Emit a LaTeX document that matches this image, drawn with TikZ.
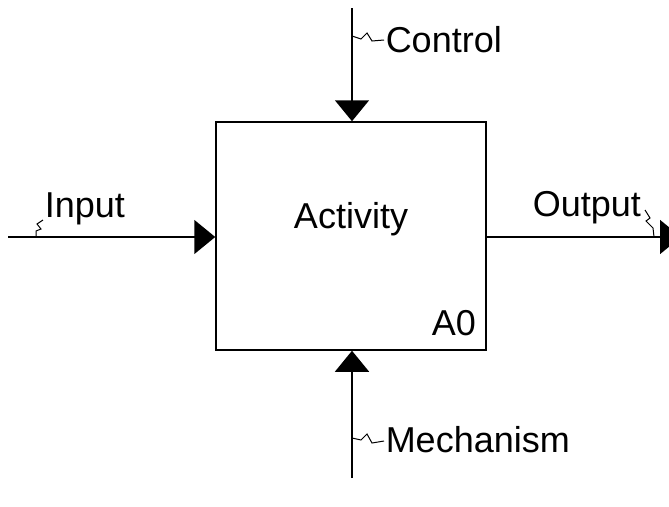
\documentclass[tikz,border=0pt]{standalone}
\usepackage{fontspec}
\setmainfont{Liberation Sans}
\usetikzlibrary{arrows.meta}
\begin{document}
\begin{tikzpicture}[x=1pt,y=-1pt,line width=1.5pt,
  flow/.style={-{Triangle[length=21pt,width=34pt]}},
  lbl/.style={font=\fontsize{36}{40}\selectfont,inner sep=0pt,anchor=base west},
  squig/.style={line width=1pt,line join=miter}]
\useasboundingbox (0,0) rectangle (669,506);
\clip (0,0) rectangle (669,506);

% activity box
\node[draw,minimum width=270pt,minimum height=228pt,inner sep=0pt] (act) at (351,236) {};
\node[lbl,anchor=base] (actname) at (351,228) {Activity};
\node[lbl] (actid) at (431,335) {A0};

% ICOM arrows
\coordinate (ctlstart) at (352,8);
\coordinate (mechstart) at (352,478);
\coordinate (instart) at (8,237);
\coordinate (outend) at (681,237);
\draw[flow] (ctlstart) -- (ctlstart |- act.north);
\draw[flow] (mechstart) -- (mechstart |- act.south);
\draw[flow] (instart) -- (instart -| act.west);
\draw[flow] (act.east |- outend) -- (outend);

% labels
\node[lbl] (ctl) at (385,52) {Control};
\node[lbl] (inp) at (44,217) {Input};
\node[lbl] (outp) at (532,216) {Output};
\node[lbl] (mech) at (385,452) {Mechanism};

% squiggle leaders tying labels to their arrows
\draw[squig] (352,36) -- (361,39) -- (367,33) -- (372,41) -- (384,40);
\draw[squig] (36,237) -- (36,231) -- (41,229) -- (37,224) -- (43,220);
\draw[squig] (645,210) -- (650,218) -- (646,221) -- (653,228) -- (654,237);
\draw[squig] (352,438) -- (361,440) -- (367,434) -- (372,443) -- (384,441);
\end{tikzpicture}
\end{document}
